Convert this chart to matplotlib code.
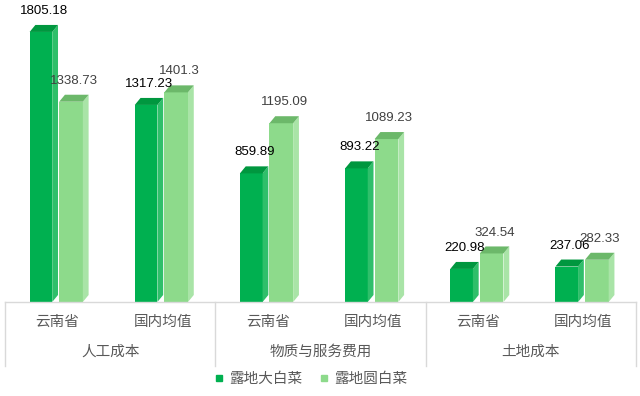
import matplotlib.pyplot as plt
from matplotlib.patches import Polygon
from matplotlib.lines import Line2D

categories = ['云南省', '国内均值', '云南省', '国内均值', '云南省', '国内均值']
groups = ['人工成本', '物质与服务费用', '土地成本']
series_names = ['露地大白菜', '露地圆白菜']
dabaicai = [1805.18, 1317.23, 859.89, 893.22, 220.98, 237.06]
yuanbaicai = [1338.73, 1401.3, 1195.09, 1089.23, 324.54, 282.33]

cjk = ['Noto Sans CJK SC', 'DejaVu Sans']
num_font = 'Liberation Sans'

W, H = 640, 396
fig = plt.figure(figsize=(6.4, 3.96), dpi=100)
base_px = 302
ax = fig.add_axes([5 / W, (H - base_px) / H, 631 / W, base_px / H])
ymax = base_px / 0.1496
ax.set_xlim(-0.5, 5.5)
ax.set_ylim(0, ymax)
ax.axis('off')

dx = 0.055
dy = 7 / 0.1496

styles = [
    dict(left=-0.266, width=0.215, front='#00B050', side='#2FBF6A', top='#00973F', lab='#000000'),
    dict(left=0.015, width=0.225, front='#8DDA8B', side='#A9E4A7', top='#6CB86A', lab='#404040'),
]

for vals, st in zip([dabaicai, yuanbaicai], styles):
    for i, v in enumerate(vals):
        x0 = i + st['left']
        x1 = x0 + st['width']
        ax.bar(x0, v, width=st['width'], align='edge', color=st['front'], linewidth=0)
        ax.add_patch(Polygon([(x1, 0), (x1 + dx, dy), (x1 + dx, v + dy), (x1, v)],
                             closed=True, facecolor=st['side'], linewidth=0))
        ax.add_patch(Polygon([(x0, v), (x0 + dx, v + dy), (x1 + dx, v + dy), (x1, v)],
                             closed=True, facecolor=st['top'], linewidth=0))
        ax.annotate(f'{v:g}', xy=((x0 + x1) / 2 + dx / 2, v + dy), xytext=(0, 10),
                    textcoords='offset points', ha='center', va='center',
                    fontsize=9.5, family=num_font, color=st['lab'], annotation_clip=False)

tr = ax.get_xaxis_transform()


def fy(py):
    return (base_px - py) / base_px


grid_c = '#D9D9D9'
ax.plot([-0.5, 5.5], [0, 0], color=grid_c, lw=1, transform=tr, clip_on=False)
for xb in [-0.5, 1.5, 3.5, 5.5]:
    ax.plot([xb, xb], [fy(302), fy(366)], color=grid_c, lw=1, transform=tr, clip_on=False)

for i, c in enumerate(categories):
    ax.text(i, fy(322), c, transform=tr, ha='center', va='center',
            fontsize=10.5, family=cjk, color='#595959')
for g, name in enumerate(groups):
    ax.text(2 * g + 0.5, fy(352), name, transform=tr, ha='center', va='center',
            fontsize=10.5, family=cjk, color='#595959')

handles = [Line2D([], [], marker='s', ls='none', markersize=5, color=styles[0]['front']),
           Line2D([], [], marker='s', ls='none', markersize=5, color=styles[1]['front'])]
fig.legend(handles, series_names, loc='center', bbox_to_anchor=(311 / W, 1 - 379 / H),
           ncol=2, frameon=False, handlelength=0.6, handletextpad=0.4, columnspacing=1.2,
           prop={'family': cjk, 'size': 10.5}, labelcolor='#595959')

fig.savefig('out.png', dpi=100)
